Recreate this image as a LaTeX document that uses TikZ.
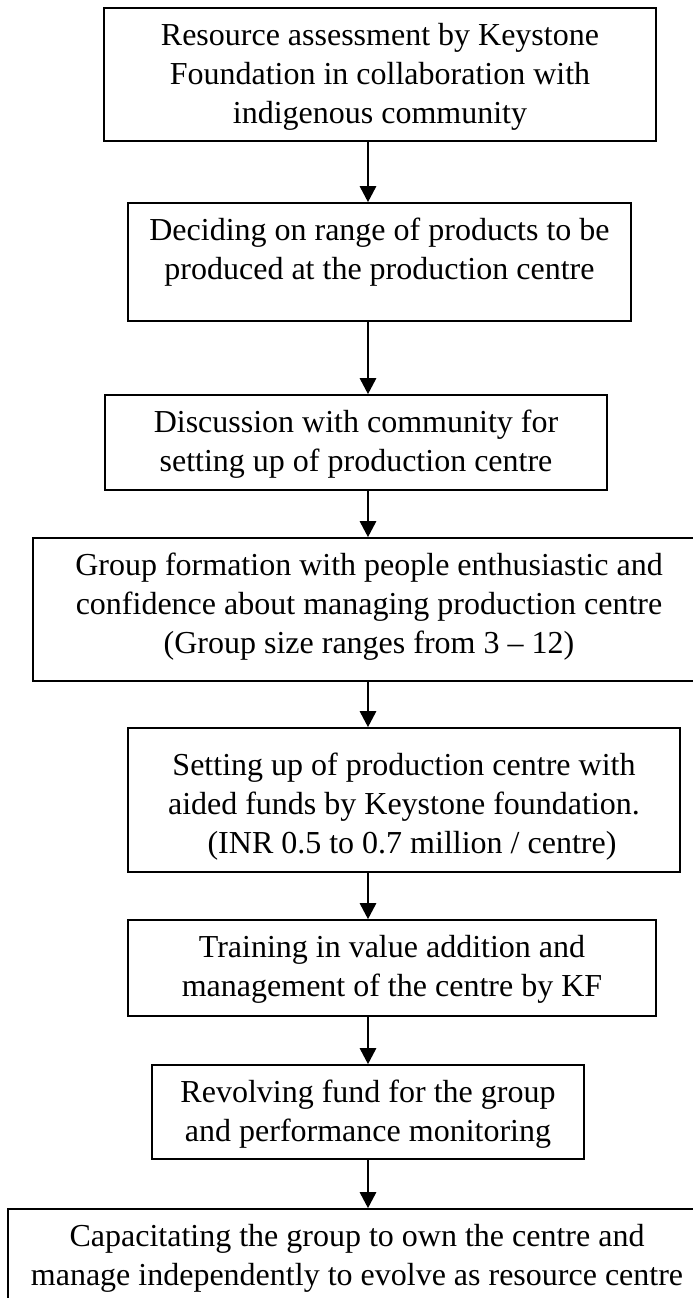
\documentclass[tikz,border=0pt]{standalone}
\usepackage{fontspec}
\setmainfont{Liberation Serif}
\usetikzlibrary{arrows.meta}

% text block of a step: [top pad] width, height, lines
\newcommand{\flowtext}[4][15bp]{\parbox[c][#3bp][t]{#2bp}{\centering\vspace*{#1}#4}}

\tikzset{
	stepbox/.style={draw, line width=1.6bp, inner sep=0pt},
	flow/.style={line width=2.7bp, -{Triangle[width=16bp,length=16bp]}}
}

\begin{document}
\begin{tikzpicture}[x=1bp, y=-1bp]
	\fontsize{32bp}{39bp}\selectfont
	\useasboundingbox (0,0) rectangle (693,1298);

	%arrows run down this line
	\coordinate (axis) at (368,0);

	%the steps
	\node [stepbox] (s1) at (380,74.5) {\flowtext{552}{133}{Resource assessment by Keystone\\Foundation in collaboration with\\indigenous community}};
	\node [stepbox] (s2) at (379.5,262) {\flowtext{503}{118}{Deciding on range of products to be\\produced at the production centre}};
	\node [stepbox] (s3) at (356,442.5) {\flowtext{502}{95}{Discussion with community for\\setting up of production centre}};
	\node [stepbox] (s4) at (369,609.5) {\flowtext{672}{143}{Group formation with people enthusiastic and\\confidence about managing production centre\\(Group size ranges from 3 -- 12)}};
	\node [stepbox] (s5) at (404,800) {\flowtext[25bp]{552}{144}{Setting up of production centre with\\aided funds by Keystone foundation.\\\ \ (INR 0.5 to 0.7 million / centre)}};
	\node [stepbox] (s6) at (392,968) {\flowtext{528}{96}{Training in value addition and\\management of the centre by KF}};
	\node [stepbox] (s7) at (368,1112) {\flowtext{432}{94}{Revolving fund for the group\\and performance monitoring}};
	\node [stepbox] (s8) at (357,1274) {\flowtext{698}{130}{Capacitating the group to own the centre and\\manage independently to evolve as resource centre}};

	%connectors
	\foreach \a/\b in {s1/s2, s2/s3, s3/s4, s4/s5, s5/s6, s6/s7, s7/s8}
		\draw [flow] (\a.south -| axis) -- (\b.north -| axis);
\end{tikzpicture}
\end{document}
